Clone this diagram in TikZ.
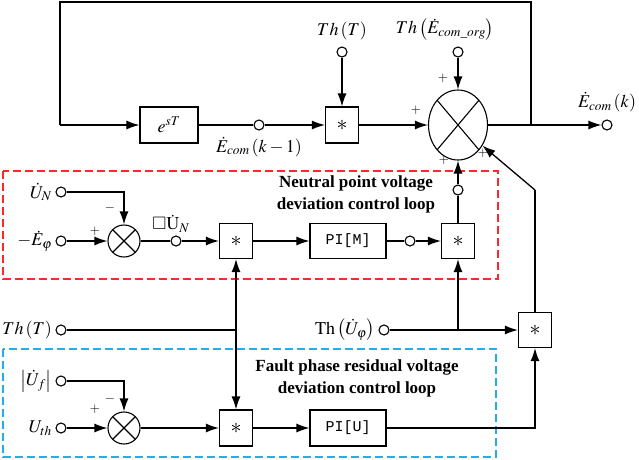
\documentclass[tikz,border=0pt]{standalone}
\usepackage{mathptmx}
\usepackage{amsmath,amssymb}
\usepackage{fontspec}
\setmainfont{Liberation Serif}
\setmonofont{Liberation Mono}
\usetikzlibrary{arrows.meta,shapes.geometric}

\definecolor{loopred}{RGB}{255,40,40}
\definecolor{loopblue}{RGB}{30,175,240}

\tikzset{
  ln/.style={line width=1.3pt},
  arr/.style={ln,-{Latex[length=13pt,width=9pt]}},
  dbl/.style={ln,{Latex[length=13pt,width=9pt]}-{Latex[length=13pt,width=9pt]}},
  blk/.style={draw,line width=1.1pt,fill=white,inner sep=0pt,
    minimum width=33pt,minimum height=35pt},
  mul/.style={blk,font=\fontsize{22}{22}\selectfont},
  pibox/.style={blk,minimum width=76pt,font=\ttfamily\fontsize{15}{17}\selectfont},
  term/.style={draw,circle,line width=1.1pt,fill=white,inner sep=0pt,minimum size=10pt},
  sumx/.style={draw,circle,line width=1.1pt,fill=white,inner sep=0pt,minimum size=32pt,
    path picture={\draw[line width=1.1pt]
      (path picture bounding box.north west) -- (path picture bounding box.south east)
      (path picture bounding box.north east) -- (path picture bounding box.south west);}},
  sgn/.style={inner sep=0pt,font=\fontsize{13}{13}\selectfont},
  note/.style={align=center,font=\bfseries\fontsize{17}{22}\selectfont},
  frame/.style={line width=1.4pt,dash pattern=on 8pt off 4pt},
}

\begin{document}
\begin{tikzpicture}[x=1pt,y=-1pt,font=\fontsize{18}{21}\selectfont]
\useasboundingbox (0,0) rectangle (639,459);

% dashed frames of the two control loops
\draw[frame,loopred] (3,171) rectangle (498,279);
\draw[frame,loopblue] (3,349) rectangle (496,457);

% forward path and feedback
\node[blk,minimum width=58pt,minimum height=36pt] (delay) at (169,125) {$e^{sT}$};
\node[term,label={[label distance=3pt]below:$\dot{E}_{com}\left(k-1\right)$}] (prev) at (259,125) {};
\node[mul,minimum height=36pt] (mulT) at (342,125) {$*$};
\node[term,label={[label distance=3pt]above:$Th\left(T\right)$}] (thT) at (342,52) {};
\node[term,label={[label distance=3pt,xshift=-13pt]above:$Th\left(\dot{E}_{com\_org}\right)$}] (thE) at (458,52) {};
\node[sumx,ellipse,minimum width=59pt,minimum height=70pt] (sumE) at (458,125) {};
\node[term,label={[label distance=4pt]above:$\dot{E}_{com}\left(k\right)$}] (out) at (607,125) {};
\coordinate (fb) at (531,125);
\coordinate (fbtr) at (531,2);
\coordinate (fbtl) at (60,2);
\coordinate (fbbl) at (60,125);

\draw[ln] (fb) -- (fbtr) -- (fbtl) -- (fbbl);
\draw[arr] (fbbl) -- (delay);
\draw[ln] (delay) -- (prev);
\draw[arr] (prev) -- (mulT);
\draw[arr] (thT) -- (mulT);
\draw[arr] (mulT) -- (sumE);
\draw[arr] (thE) -- (sumE);
\draw[arr] (sumE) -- (out);

\node[sgn] (pTop) at (443,78) {$+$};
\node[sgn] (pLeft) at (416,110) {$+$};
\node[sgn] (pBot) at (444,160) {$+$};
\node[sgn] (pDiag) at (483,153) {$+$};

% neutral point voltage loop
\node[term,label={left:$\dot{U}_N$}] (uN) at (61,192) {};
\node[term,label={left:$-\dot{E}_{\varphi}$}] (ePhi) at (61,241) {};
\node[sumx] (sumN) at (124,241) {};
\node[term,label={[xshift=-5pt,label distance=-1pt]above:$\square\dot{\mathrm{U}}_N$}] (dN) at (176,241) {};
\node[mul] (mulN) at (236,241) {$*$};
\node[pibox] (piM) at (348,241) {PI[M]};
\node[term] (pM) at (410,241) {};
\node[mul] (mulM) at (458,241) {$*$};
\node[term] (pMo) at (458,190) {};
\node[sgn] (mN) at (110,208) {$-$};
\node[sgn] (aN) at (95,231) {$+$};
\node[note] (noteN) at (356,194) {Neutral point voltage\\deviation control loop};

\draw[arr] (uN) -| (sumN);
\draw[arr] (ePhi) -- (sumN);
\draw[ln] (sumN) -- (dN);
\draw[arr] (dN) -- (mulN);
\draw[arr] (mulN) -- (piM);
\draw[ln] (piM) -- (pM);
\draw[arr] (pM) -- (mulM);
\draw[ln] (mulM) -- (pMo);
\draw[arr] (pMo) -- (sumE);

% fault phase residual voltage loop
\node[term,label={left:$\left|\dot{U}_f\right|$}] (uF) at (61,381) {};
\node[term,label={left:$U_{th}$}] (uTh) at (61,428) {};
\node[sumx] (sumF) at (124,428) {};
\node[mul,minimum height=36pt] (mulF) at (236,428) {$*$};
\node[pibox,minimum height=36pt] (piU) at (348,428) {PI[U]};
\node[sgn] (mF) at (110,399) {$-$};
\node[sgn] (aF) at (95,409) {$+$};
\node[note] (noteF) at (357,378) {Fault phase residual voltage\\deviation control loop};

\draw[arr] (uF) -| (sumF);
\draw[arr] (uTh) -- (sumF);
\draw[arr] (sumF) -- (mulF);
\draw[arr] (mulF) -- (piU);

% threshold inputs and correction product
\node[term,label={left:$Th\left(T\right)$}] (thT2) at (61,330) {};
\node[term,label={left:$\mathrm{Th}\left(\dot{U}_{\varphi}\right)$}] (thU) at (384,330) {};
\node[mul] (mulC) at (535,330) {$*$};
\coordinate (jT) at (236,330);
\coordinate (jU) at (458,330);
\coordinate (bend) at (535,190);

\draw[ln] (thT2) -- (jT);
\draw[dbl] (mulN) -- (mulF);
\draw[arr] (thU) -- (mulC);
\draw[arr] (jU) -- (mulM);
\draw[arr] (piU) -| (mulC);
\draw[ln] (mulC) -- (bend);
\draw[arr] (bend) -- (sumE);
\end{tikzpicture}
\end{document}
